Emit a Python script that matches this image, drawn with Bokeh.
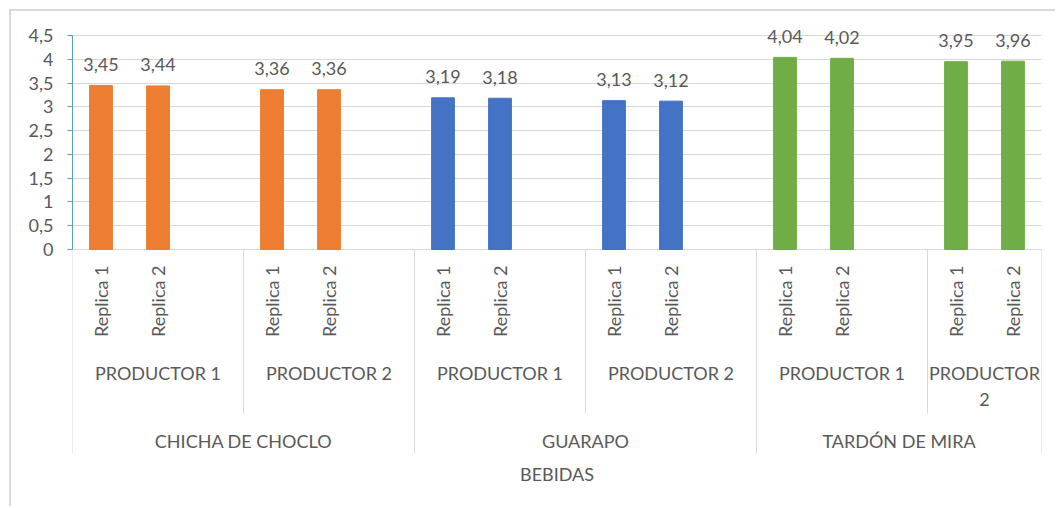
import math
from bokeh.plotting import figure
from bokeh.models import ColumnDataSource, Range1d, FixedTicker
from bokeh.core.properties import value
from bokeh.embed import file_html
from bokeh.resources import INLINE

# ---- data ----
bebidas = ["CHICHA DE CHOCLO", "GUARAPO", "TARDÓN DE MIRA"]
productores = ["PRODUCTOR 1", "PRODUCTOR 2"]
replicas = ["Replica 1", "Replica 2"]
chicha = [3.45, 3.44, 3.36, 3.36]
guarapo = [3.19, 3.18, 3.13, 3.12]
tardon = [4.04, 4.02, 3.95, 3.96]
colores = ["#ED7D31", "#4472C4", "#70AD47"]
y_ticks = [0, 0.5, 1, 1.5, 2, 2.5, 3, 3.5, 4, 4.5]
y_tick_labels = ["0", "0,5", "1", "1,5", "2", "2,5", "3", "3,5", "4", "4,5"]
axis_title = "BEBIDAS"

series = [chicha, guarapo, tardon]

# ---- style constants ----
FONT = "Lato"
TXT = "#595959"
GRID = "#D9D9D9"
PX = 214 / 4.5            # pixels per unit on the value axis
def below(px):            # pixels below the zero line -> data units
    return -px / PX

# ---- build slot layout ----
bar_x, bar_top, bar_col, bar_lbl = [], [], [], []
rep_x, rep_lbl = [], []
prod_x, prod_lbl = [], []
beb_x = []
short_sep, long_sep = [], [0]
n_groups = len(bebidas) * len(productores)
slot = 0
g = 0
for bi, b in enumerate(bebidas):
    b_start = slot
    for pi, pr in enumerate(productores):
        p_start = slot
        for ri, r in enumerate(replicas):
            v = series[bi][pi * len(replicas) + ri]
            bar_x.append(slot + 0.5)
            bar_top.append(v)
            bar_col.append(colores[bi])
            bar_lbl.append(f"{v:.2f}".replace(".", ","))
            rep_x.append(slot + 0.5)
            rep_lbl.append(r)
            slot += 1
        g += 1
        if g < n_groups:
            slot += 1  # empty category slot
        width = slot - p_start
        prod_x.append((p_start + slot) / 2)
        prod_lbl.append(pr if width > len(replicas) else pr.replace(" ", "\n"))
        if pi < len(productores) - 1:
            short_sep.append(slot)
    beb_x.append((b_start + slot) / 2)
    long_sep.append(slot)
n_slots = slot

# ---- figure ----
p = figure(width=1046, height=497, output_backend="svg", toolbar_location=None,
           x_range=Range1d(0, n_slots), y_range=Range1d(below(508 - 249), (249 - 15) / PX),
           x_axis_location=None, y_axis_location="left")
p.margin = (9, 0, 0, 9)
p.styles = {"border-left": "2px solid #D9D9D9", "border-top": "2px solid #D9D9D9"}
p.min_border = 0
p.min_border_left = 61
p.min_border_top = 4
p.min_border_right = 16
p.min_border_bottom = 0
p.outline_line_color = None
p.background_fill_color = "white"
p.border_fill_color = "white"

ax = p.yaxis[0]
ax.ticker = FixedTicker(ticks=y_ticks)
ax.bounds = (y_ticks[0], y_ticks[-1])
ax.major_label_overrides = {t: l for t, l in zip(y_ticks, y_tick_labels)}
ax.axis_line_color = "#5B9BD5"
ax.major_tick_line_color = "#5B9BD5"
ax.major_tick_in = 0
ax.major_tick_out = 5
ax.minor_tick_line_color = None
ax.major_label_standoff = 14
ax.major_label_text_font = FONT
ax.major_label_text_font_size = "18px"
ax.major_label_text_color = TXT

p.xgrid.visible = False
p.ygrid.ticker = FixedTicker(ticks=y_ticks)
p.ygrid.grid_line_color = GRID
p.ygrid.grid_line_width = 1

# separators
p.segment(x0=short_sep, y0=[0] * len(short_sep), x1=short_sep,
          y1=[below(164)] * len(short_sep), line_color=GRID, line_width=1)
p.segment(x0=long_sep, y0=[0] * len(long_sep), x1=long_sep,
          y1=[below(204)] * len(long_sep), line_color=GRID, line_width=1)

# bars
src = ColumnDataSource(dict(x=bar_x, top=bar_top, color=bar_col, lbl=bar_lbl))
p.vbar(x="x", top="top", bottom=0, width=0.4, color="color", source=src)
p.text(x="x", y="top", text="lbl", source=src, text_align="center",
       text_baseline="alphabetic", y_offset=-21, text_font=value(FONT),
       text_font_size="18px", text_color=TXT)

# category labels
p.text(x=rep_x, y=[below(16)] * len(rep_x), text=rep_lbl, angle=math.pi / 2,
       text_align="right", text_baseline="middle", text_font=value(FONT),
       text_font_size="18px", text_color=TXT)
p.text(x=prod_x, y=[below(112)] * len(prod_x), text=prod_lbl,
       text_align="center", text_baseline="top", text_line_height=1.2,
       text_font=value(FONT), text_font_size="18px", text_color=TXT)
p.text(x=beb_x, y=[below(191)] * len(beb_x), text=bebidas,
       text_align="center", text_baseline="middle", text_font=value(FONT),
       text_font_size="18px", text_color=TXT)
p.text(x=[n_slots / 2], y=[below(224)], text=[axis_title],
       text_align="center", text_baseline="middle", text_font=value(FONT),
       text_font_size="18px", text_color=TXT)

open("out.html", "w").write(file_html(p, INLINE))
